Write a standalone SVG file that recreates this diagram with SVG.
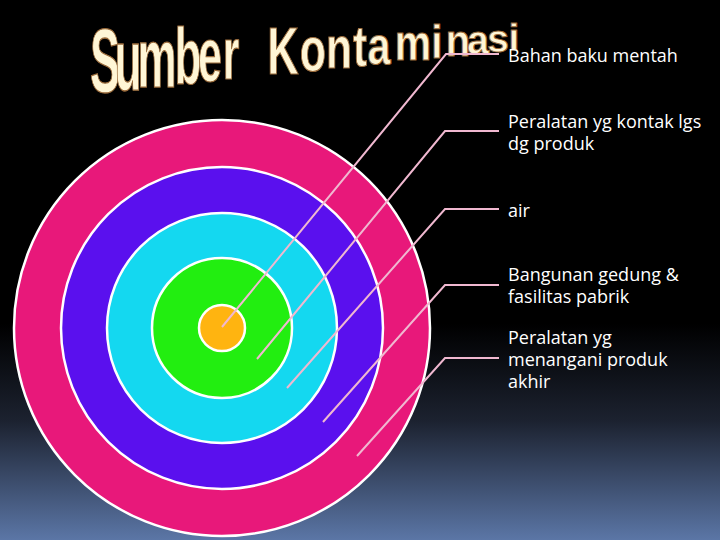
<svg xmlns="http://www.w3.org/2000/svg" width="720" height="540" viewBox="0 0 720 540">
<defs>
<linearGradient id="bg" x1="0" y1="0" x2="0" y2="540" gradientUnits="userSpaceOnUse">
<stop offset="0" stop-color="#000000"/>
<stop offset="0.6" stop-color="#000000"/>
<stop offset="0.78" stop-color="#1c2230"/>
<stop offset="1" stop-color="#5b76a6"/>
</linearGradient>
<style>
.ring{stroke:#ffffff;stroke-width:2.5}
.conn{fill:none;stroke:#f0b8d0;stroke-width:2;stroke-linejoin:miter}
.lbl{font-family:"Open Sans","DejaVu Sans",sans-serif;font-size:18px;fill:#ffffff}
.tt{font-family:"Liberation Sans",Arial,sans-serif;font-weight:bold;font-size:100px;fill:#fff6d6;stroke:#9a6a3a;stroke-width:1;vector-effect:non-scaling-stroke;text-anchor:middle}
</style>
</defs>
<rect x="0" y="0" width="720" height="540" fill="url(#bg)"/>
<g id="title">
<text class="tt" transform="translate(105,92) scale(0.45,0.901)">S</text>
<text class="tt" transform="translate(128,89.6) scale(0.445,0.871)">u</text>
<text class="tt" transform="translate(157,86.6) scale(0.44,0.833)">m</text>
<text class="tt" transform="translate(188,83.5) scale(0.435,0.792)">b</text>
<text class="tt" transform="translate(210,81.2) scale(0.43,0.764)">e</text>
<text class="tt" transform="translate(231,79) scale(0.43,0.737)">r</text>
<text class="tt" transform="translate(283,73.7) scale(0.435,0.669)">K</text>
<text class="tt" transform="translate(313,70.6) scale(0.43,0.629)">o</text>
<text class="tt" transform="translate(339,67.9) scale(0.425,0.595)">n</text>
<text class="tt" transform="translate(360,65.7) scale(0.42,0.568)">t</text>
<text class="tt" transform="translate(379,63.8) scale(0.415,0.542)">a</text>
<text class="tt" transform="translate(413,60.3) scale(0.41,0.498)">m</text>
<text class="tt" transform="translate(437,57.8) scale(0.405,0.467)">i</text>
<text class="tt" transform="translate(458,55.6) scale(0.4,0.439)">n</text>
<text class="tt" transform="translate(478,53.6) scale(0.395,0.413)">a</text>
<text class="tt" transform="translate(498,51.5) scale(0.39,0.387)">s</text>
<text class="tt" transform="translate(514,49.9) scale(0.39,0.366)">i</text>
</g>
<g id="target">
<circle id="ring-outer" class="ring" cx="222" cy="328" r="208" fill="#e8187a"/>
<circle id="ring-4" class="ring" cx="222" cy="328" r="161" fill="#5a10ee"/>
<circle id="ring-3" class="ring" cx="222" cy="328" r="115" fill="#14d8f0"/>
<circle id="ring-2" class="ring" cx="222" cy="328" r="70" fill="#22ee10"/>
<circle id="ring-core" class="ring" cx="222" cy="328" r="23" fill="#ffb410"/>
</g>
<g id="connectors">
<polyline class="conn" points="222,327 446,54 499,54"/>
<polyline class="conn" points="257,359 445,131 499,131"/>
<polyline class="conn" points="287,388 445,209 499,209"/>
<polyline class="conn" points="323,422 445,285 499,285"/>
<polyline class="conn" points="357,456 445,358 499,358"/>
</g>
<g id="label-1"><text class="lbl" x="508" y="62">Bahan baku mentah</text></g>
<g id="label-2"><text class="lbl" x="508" y="128">Peralatan yg kontak lgs<tspan x="508" dy="22">dg  produk</tspan></text></g>
<g id="label-3"><text class="lbl" x="508" y="217">air</text></g>
<g id="label-4"><text class="lbl" x="508" y="281">Bangunan gedung &amp;<tspan x="508" dy="22">fasilitas pabrik</tspan></text></g>
<g id="label-5"><text class="lbl" x="508" y="344">Peralatan yg<tspan x="508" dy="22">menangani produk</tspan><tspan x="508" dy="22">akhir</tspan></text></g>
</svg>
